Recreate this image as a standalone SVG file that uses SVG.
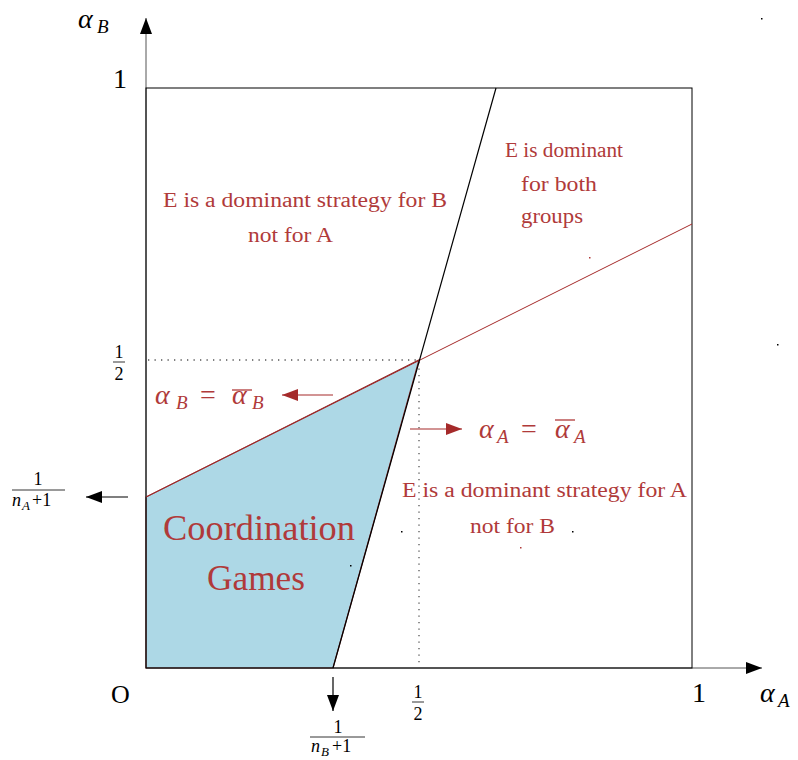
<svg xmlns="http://www.w3.org/2000/svg" width="798" height="760" viewBox="0 0 798 760">
<style>
  text { font-family: "Liberation Serif", "Times New Roman", Tinos, "DejaVu Serif", "Noto Serif", FreeSerif, serif; }
  .blk { fill: #000; }
  .red { fill: #B03A3A; }
  .it { font-style: italic; }
  .lbl { font-size: 20px; fill: #B03A3A; }
  .frac { font-size: 18px; fill: #000; }
  .big { font-size: 28px; fill: #000; }
  .axis { stroke: #555; stroke-width: 1; fill: none; }
  .box { stroke: #000; stroke-width: 1; fill: none; }
  .dot { stroke: #555; stroke-width: 1.3; stroke-dasharray: 1.3 5.2; fill: none; }
  .redln { stroke: #A52A2A; stroke-width: 1; fill: none; }
  .blkln { stroke: #000; stroke-width: 1.2; fill: none; }
</style>
<defs>
  <marker id="ah" viewBox="0 0 16 12" refX="16" refY="6" markerWidth="16" markerHeight="12" markerUnits="userSpaceOnUse" orient="auto">
    <path d="M0,0 L16,6 L0,12 Z" fill="#000"/>
  </marker>
  <marker id="ahr" viewBox="0 0 16 12" refX="16" refY="6" markerWidth="16" markerHeight="12" markerUnits="userSpaceOnUse" orient="auto">
    <path d="M0,0 L16,6 L0,12 Z" fill="#A52A2A"/>
  </marker>
</defs>
<rect width="798" height="760" fill="#fff"/>

<g id="region-coordination">
  <polygon points="146,668 333,668 419,360 146,497" fill="#ADD8E6" stroke="#8B2A2A" stroke-width="1.2"/>
  <text x="163" y="540" font-size="36" class="red" textLength="192" lengthAdjust="spacingAndGlyphs">Coordination</text>
  <text x="207" y="590" font-size="36" class="red" textLength="98" lengthAdjust="spacingAndGlyphs">Games</text>
</g>

<g id="connectors">
  <line class="axis" x1="146" y1="668" x2="146" y2="18" marker-end="url(#ah)"/>
  <line class="axis" x1="146" y1="668" x2="762" y2="668" marker-end="url(#ah)"/>
  <rect class="box" x="146" y="88" width="546" height="580"/>
  <line class="dot" x1="148" y1="360" x2="419" y2="360"/>
  <line class="dot" x1="419" y1="362" x2="419" y2="668"/>
  <line class="redln" x1="146" y1="497" x2="692" y2="224"/>
  <line class="blkln" x1="333" y1="668" x2="496" y2="88"/>
  <line stroke="#A52A2A" stroke-width="1.2" x1="333" y1="395" x2="282" y2="395" marker-end="url(#ahr)"/>
  <line stroke="#A52A2A" stroke-width="1.2" x1="410" y1="429" x2="462" y2="429" marker-end="url(#ahr)"/>
  <line stroke="#000" stroke-width="1.2" x1="128" y1="497" x2="86" y2="497" marker-end="url(#ah)"/>
  <line stroke="#000" stroke-width="1.2" x1="333" y1="677" x2="333" y2="711" marker-end="url(#ah)"/>
</g>

<g id="label-alphaB-axis">
  <text x="78" y="28" class="big it">α</text>
  <text x="97" y="33" font-size="19" class="blk it">B</text>
</g>
<g id="label-alphaA-axis">
  <text x="760" y="702" class="big it">α</text>
  <text x="778" y="707" font-size="19" class="blk it">A</text>
</g>
<g id="tick-1-top"><text x="113" y="88" class="big">1</text></g>
<g id="tick-1-right"><text x="692" y="702" class="big">1</text></g>
<g id="origin"><text x="111" y="703" font-size="26" class="blk">O</text></g>

<g id="tick-half-y">
  <text x="119" y="358" class="frac" text-anchor="middle">1</text>
  <line x1="113" y1="362" x2="125" y2="362" stroke="#000" stroke-width="0.8"/>
  <text x="119" y="380" class="frac" text-anchor="middle">2</text>
</g>
<g id="tick-half-x">
  <text x="418" y="698" class="frac" text-anchor="middle">1</text>
  <line x1="412" y1="702" x2="424" y2="702" stroke="#000" stroke-width="0.8"/>
  <text x="418" y="720" class="frac" text-anchor="middle">2</text>
</g>
<g id="tick-nA">
  <text x="38" y="485" class="frac" text-anchor="middle">1</text>
  <line x1="12" y1="490" x2="65" y2="490" stroke="#000" stroke-width="0.8"/>
  <text x="12" y="506" class="frac it">n</text>
  <text x="22" y="510" font-size="13" class="blk it">A</text>
  <text x="32" y="506" class="frac">+1</text>
</g>
<g id="tick-nB">
  <text x="338" y="733" class="frac" text-anchor="middle">1</text>
  <line x1="310" y1="737" x2="365" y2="737" stroke="#000" stroke-width="0.8"/>
  <text x="311" y="752" class="frac it">n</text>
  <text x="321" y="756" font-size="13" class="blk it">B</text>
  <text x="332" y="752" class="frac">+1</text>
</g>

<g id="label-alphaB-bar">
  <text x="155" y="404" font-size="28" class="red it">α</text>
  <text x="176" y="409" font-size="19" class="red it">B</text>
  <text x="200" y="404" font-size="28" class="red">=</text>
  <line x1="232" y1="390" x2="252" y2="390" stroke="#B03A3A" stroke-width="1.3"/>
  <text x="232" y="404" font-size="28" class="red it">α</text>
  <text x="252" y="409" font-size="19" class="red it">B</text>
</g>
<g id="label-alphaA-bar">
  <text x="479" y="438" font-size="28" class="red it">α</text>
  <text x="497" y="443" font-size="19" class="red it">A</text>
  <text x="521" y="438" font-size="28" class="red">=</text>
  <line x1="555" y1="420" x2="575" y2="420" stroke="#B03A3A" stroke-width="1.3"/>
  <text x="555" y="438" font-size="28" class="red it">α</text>
  <text x="574" y="443" font-size="19" class="red it">A</text>
</g>

<g id="region-B-dominant">
  <text x="163" y="207" class="lbl" textLength="284" lengthAdjust="spacingAndGlyphs">E is a dominant strategy for B</text>
  <text x="248" y="242" class="lbl" textLength="85" lengthAdjust="spacingAndGlyphs">not for A</text>
</g>
<g id="region-both">
  <text x="505" y="157" class="lbl" textLength="118" lengthAdjust="spacingAndGlyphs">E is dominant</text>
  <text x="521" y="191" class="lbl" textLength="76" lengthAdjust="spacingAndGlyphs">for both</text>
  <text x="521" y="223" class="lbl" textLength="62" lengthAdjust="spacingAndGlyphs">groups</text>
</g>
<g id="region-A-dominant">
  <text x="402" y="497" class="lbl" textLength="285" lengthAdjust="spacingAndGlyphs">E is a dominant strategy for A</text>
  <text x="470" y="533" class="lbl" textLength="85" lengthAdjust="spacingAndGlyphs">not for B</text>
</g>

<g id="specks">
  <rect x="761" y="18" width="1.5" height="1.5" fill="#000"/>
  <rect x="777" y="344" width="1.5" height="1.5" fill="#000"/>
  <rect x="589" y="257" width="1.5" height="1.5" fill="#B03A3A"/>
  <rect x="401" y="531" width="1.5" height="1.5" fill="#000"/>
  <rect x="572" y="531" width="1.5" height="1.5" fill="#000"/>
  <rect x="520" y="547" width="1.5" height="1.5" fill="#B03A3A"/>
  <rect x="350" y="565" width="1.5" height="1.5" fill="#000"/>
</g>
</svg>
